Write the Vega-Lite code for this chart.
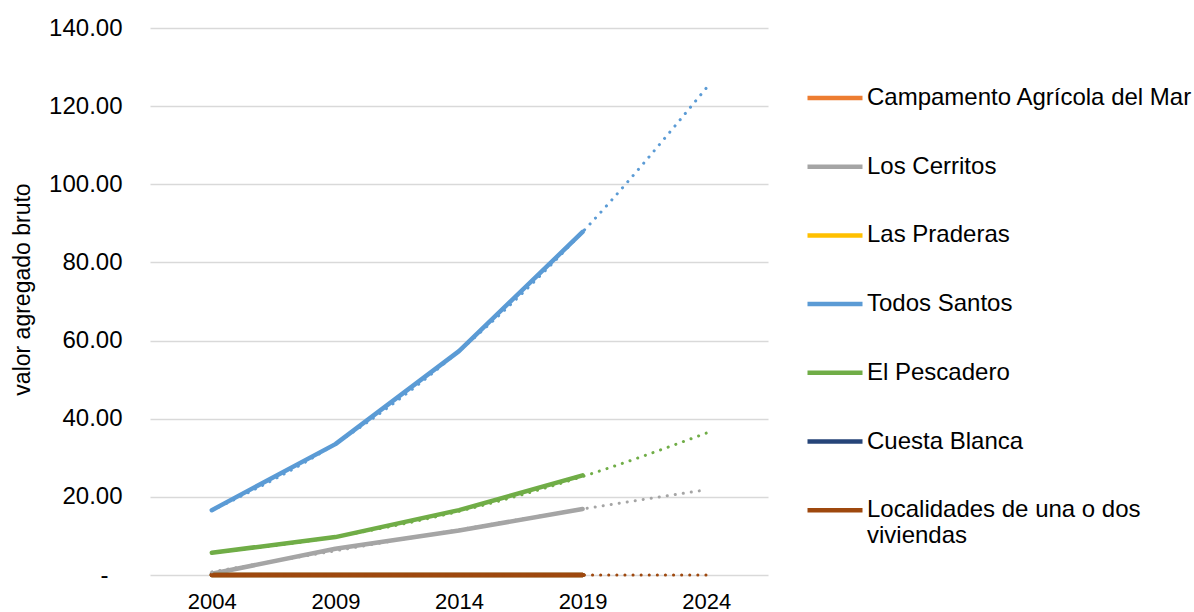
{
  "$schema": "https://vega.github.io/schema/vega-lite/v6.json",
  "autosize": {"type": "none"},
  "width": 618,
  "height": 547,
  "padding": {"left": 150, "top": 28, "right": 426, "bottom": 37},
  "background": "white",
  "config": {
    "font": "Liberation Sans",
    "view": {"stroke": null}
  },
  "data": {
    "values": [
      {"serie": "Campamento Agrícola del Mar", "year": "2004", "value": 0, "kind": "actual"},
      {"serie": "Campamento Agrícola del Mar", "year": "2009", "value": 0, "kind": "actual"},
      {"serie": "Campamento Agrícola del Mar", "year": "2014", "value": 0, "kind": "actual"},
      {"serie": "Campamento Agrícola del Mar", "year": "2019", "value": 0, "kind": "actual"},
      {"serie": "Los Cerritos", "year": "2004", "value": 0.3, "kind": "actual"},
      {"serie": "Los Cerritos", "year": "2009", "value": 6.7, "kind": "actual"},
      {"serie": "Los Cerritos", "year": "2014", "value": 11.4, "kind": "actual"},
      {"serie": "Los Cerritos", "year": "2019", "value": 16.9, "kind": "actual"},
      {"serie": "Las Praderas", "year": "2004", "value": 0, "kind": "actual"},
      {"serie": "Las Praderas", "year": "2009", "value": 0, "kind": "actual"},
      {"serie": "Las Praderas", "year": "2014", "value": 0, "kind": "actual"},
      {"serie": "Las Praderas", "year": "2019", "value": 0, "kind": "actual"},
      {"serie": "Todos Santos", "year": "2004", "value": 16.6, "kind": "actual"},
      {"serie": "Todos Santos", "year": "2009", "value": 33.5, "kind": "actual"},
      {"serie": "Todos Santos", "year": "2014", "value": 57.3, "kind": "actual"},
      {"serie": "Todos Santos", "year": "2019", "value": 87.8, "kind": "actual"},
      {"serie": "El Pescadero", "year": "2004", "value": 5.7, "kind": "actual"},
      {"serie": "El Pescadero", "year": "2009", "value": 9.7, "kind": "actual"},
      {"serie": "El Pescadero", "year": "2014", "value": 16.6, "kind": "actual"},
      {"serie": "El Pescadero", "year": "2019", "value": 25.5, "kind": "actual"},
      {"serie": "Cuesta Blanca", "year": "2004", "value": 0, "kind": "actual"},
      {"serie": "Cuesta Blanca", "year": "2009", "value": 0, "kind": "actual"},
      {"serie": "Cuesta Blanca", "year": "2014", "value": 0, "kind": "actual"},
      {"serie": "Cuesta Blanca", "year": "2019", "value": 0, "kind": "actual"},
      {"serie": "Localidades de una o dos viviendas", "year": "2004", "value": 0, "kind": "actual"},
      {"serie": "Localidades de una o dos viviendas", "year": "2009", "value": 0, "kind": "actual"},
      {"serie": "Localidades de una o dos viviendas", "year": "2014", "value": 0, "kind": "actual"},
      {"serie": "Localidades de una o dos viviendas", "year": "2019", "value": 0, "kind": "actual"},
      {"serie": "Los Cerritos", "year": "2004", "value": 0.8, "kind": "trend"},
      {"serie": "Los Cerritos", "year": "2009", "value": 6.2, "kind": "trend"},
      {"serie": "Los Cerritos", "year": "2014", "value": 11.6, "kind": "trend"},
      {"serie": "Los Cerritos", "year": "2019", "value": 16.9, "kind": "trend"},
      {"serie": "Los Cerritos", "year": "2024", "value": 21.8, "kind": "trend"},
      {"serie": "Todos Santos", "year": "2004", "value": 16.5, "kind": "trend"},
      {"serie": "Todos Santos", "year": "2009", "value": 33.6, "kind": "trend"},
      {"serie": "Todos Santos", "year": "2014", "value": 57.3, "kind": "trend"},
      {"serie": "Todos Santos", "year": "2019", "value": 87.8, "kind": "trend"},
      {"serie": "Todos Santos", "year": "2024", "value": 124.6, "kind": "trend"},
      {"serie": "El Pescadero", "year": "2004", "value": 5.6, "kind": "trend"},
      {"serie": "El Pescadero", "year": "2009", "value": 9.8, "kind": "trend"},
      {"serie": "El Pescadero", "year": "2014", "value": 16.3, "kind": "trend"},
      {"serie": "El Pescadero", "year": "2019", "value": 25.2, "kind": "trend"},
      {"serie": "El Pescadero", "year": "2024", "value": 36.3, "kind": "trend"},
      {"serie": "Localidades de una o dos viviendas", "year": "2004", "value": 0, "kind": "trend"},
      {"serie": "Localidades de una o dos viviendas", "year": "2009", "value": 0, "kind": "trend"},
      {"serie": "Localidades de una o dos viviendas", "year": "2014", "value": 0, "kind": "trend"},
      {"serie": "Localidades de una o dos viviendas", "year": "2019", "value": 0, "kind": "trend"},
      {"serie": "Localidades de una o dos viviendas", "year": "2024", "value": 0, "kind": "trend"}
    ]
  },
  "encoding": {
    "x": {
      "field": "year",
      "type": "ordinal",
      "scale": {"type": "point", "padding": 0.5, "domain": ["2004", "2009", "2014", "2019", "2024"]},
      "axis": {
        "title": null,
        "labelAngle": 0,
        "ticks": false,
        "domain": false,
        "grid": false,
        "labelFontSize": 22,
        "labelColor": "#000000",
        "labelPadding": 16
      }
    },
    "y": {
      "field": "value",
      "type": "quantitative",
      "scale": {"domain": [0, 140], "nice": false},
      "axis": {
        "title": "valor agregado bruto",
        "titleFontSize": 23,
        "titleFontWeight": "normal",
        "titleColor": "#000000",
        "titlePadding": 14,
        "titleY": 261,
        "values": [0, 20, 40, 60, 80, 100, 120, 140],
        "labelExpr": "datum.value == 0 ? '-' : format(datum.value, '.2f')",
        "labelFontSize": 24,
        "labelColor": "#000000",
        "labelPadding": {"condition": {"test": "datum.value == 0", "value": 42}, "value": 28},
        "ticks": false,
        "domain": false,
        "gridColor": "#d9d9d9",
        "gridWidth": 1.5
      }
    }
  },
  "layer": [
    {
      "transform": [{"filter": "datum.kind == 'actual'"}],
      "mark": {"type": "line", "strokeWidth": 4.5, "strokeCap": "round", "strokeJoin": "round"},
      "encoding": {
        "color": {
          "field": "serie",
          "type": "nominal",
          "scale": {
            "domain": ["Campamento Agrícola del Mar", "Los Cerritos", "Las Praderas", "Todos Santos", "El Pescadero", "Cuesta Blanca", "Localidades de una o dos viviendas"],
            "range": ["#ED7D31", "#A5A5A5", "#FFC000", "#5B9BD5", "#70AD47", "#264478", "#9E480E"]
          },
          "legend": {
            "title": null,
            "orient": "none",
            "legendX": 655,
            "legendY": 40,
            "symbolType": "stroke",
            "symbolSize": 3025,
            "symbolStrokeWidth": 4.5,
            "labelFontSize": 24,
            "labelColor": "#000000",
            "labelLimit": 400,
            "labelOffset": 2,
            "rowPadding": 26.7,
            "labelExpr": "datum.label == 'Localidades de una o dos viviendas' ? ['Localidades de una o dos', 'viviendas'] : datum.label"
          }
        }
      }
    },
    {
      "transform": [{"filter": "datum.kind == 'trend'"}],
      "mark": {"type": "line", "strokeWidth": 3, "strokeCap": "round", "strokeDash": [0.1, 8], "interpolate": "monotone"},
      "encoding": {
        "stroke": {
          "field": "serie",
          "type": "nominal",
          "scale": {
            "domain": ["Campamento Agrícola del Mar", "Los Cerritos", "Las Praderas", "Todos Santos", "El Pescadero", "Cuesta Blanca", "Localidades de una o dos viviendas"],
            "range": ["#ED7D31", "#A5A5A5", "#FFC000", "#5B9BD5", "#70AD47", "#264478", "#9E480E"]
          },
          "legend": null
        }
      }
    }
  ]
}
